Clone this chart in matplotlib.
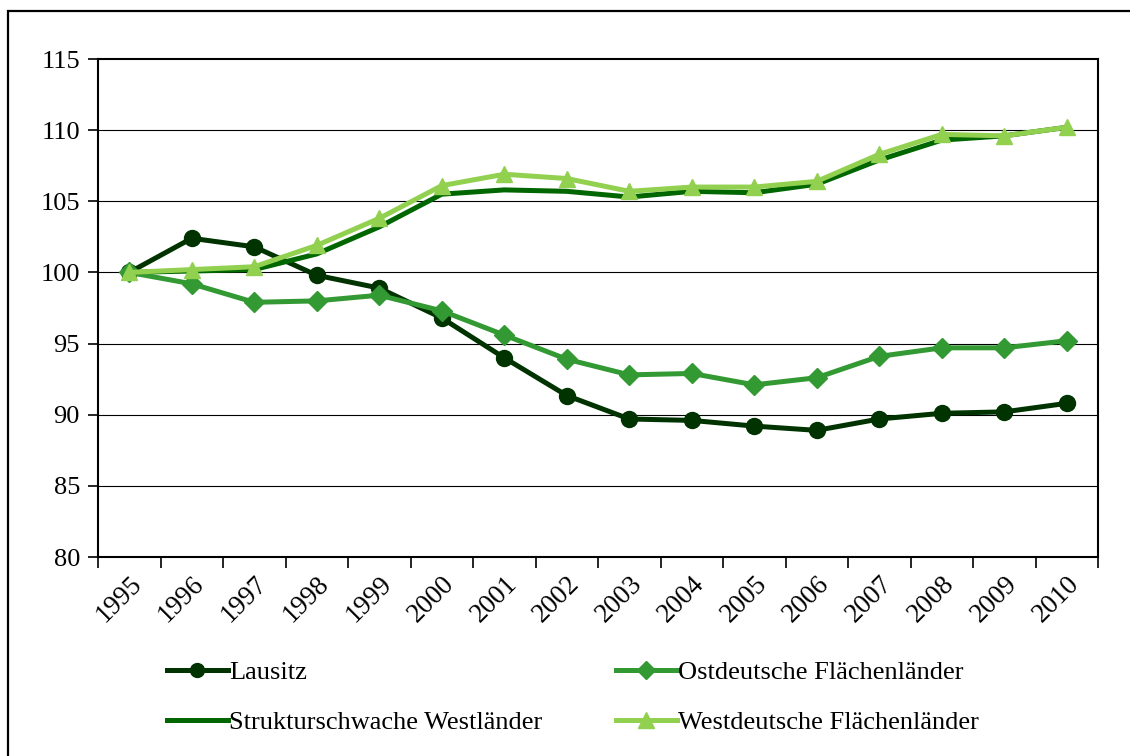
import matplotlib
matplotlib.use("Agg")
import matplotlib.pyplot as plt
from matplotlib.patches import Rectangle
from matplotlib.lines import Line2D
import numpy as np

plt.rcParams['font.family'] = ['Liberation Serif', 'DejaVu Serif']

years = [str(y) for y in range(1995, 2011)]
lausitz = [100, 102.4, 101.8, 99.8, 98.9, 96.8, 94.0, 91.35, 89.7, 89.6, 89.2, 88.9, 89.7, 90.1, 90.2, 90.8]
ost = [100, 99.2, 97.9, 98.0, 98.4, 97.3, 95.6, 93.9, 92.8, 92.9, 92.1, 92.6, 94.1, 94.7, 94.7, 95.2]
struktur = [100, 100.1, 100.2, 101.3, 103.2, 105.5, 105.8, 105.7, 105.3, 105.7, 105.6, 106.2, 107.9, 109.3, 109.6, 110.2]
west = [100, 100.2, 100.4, 101.9, 103.8, 106.1, 106.9, 106.6, 105.7, 106.0, 106.0, 106.4, 108.3, 109.7, 109.6, 110.2]
yticks = [80, 85, 90, 95, 100, 105, 110, 115]
labels = ["Lausitz", "Ostdeutsche Flächenländer", "Strukturschwache Westländer", "Westdeutsche Flächenländer"]

c_lau = "#003300"
c_ost = "#339933"
c_str = "#006600"
c_wes = "#92D050"

W, H = 1130, 756
fig = plt.figure(figsize=(W/100, H/100), dpi=100)
ax = fig.add_axes([98/W, 1-557/H, 1000/W, 498/H])

x = np.arange(len(years))
lw = 3.6
ax.plot(x, lausitz, color=c_lau, lw=lw, marker='o', ms=11.5, zorder=3)
ax.plot(x, struktur, color=c_str, lw=lw, zorder=3)
ax.plot(x, ost, color=c_ost, lw=lw, marker='D', ms=10, zorder=4)
ax.plot(x, west, color=c_wes, lw=lw, marker='^', ms=12, zorder=5)

ax.set_xlim(-0.5, len(years)-0.5)
ax.set_ylim(80, 115)
ax.set_yticks(yticks)
ax.set_yticklabels([str(v) for v in yticks], fontsize=19)
ax.set_xticks(np.arange(-0.5, len(years), 1.0))
ax.set_xticklabels([])
ax.set_xticks(x, minor=True)
ax.set_xticklabels(years, minor=True, rotation=45, ha='right', va='top',
                   rotation_mode='anchor', fontsize=19.5)
ax.tick_params(axis='x', which='minor', length=0, pad=10)
ax.tick_params(axis='x', which='major', length=8, width=1.2, direction='out')
ax.tick_params(axis='y', length=7, width=1.2, direction='out', pad=6)
for v in yticks[1:-1]:
    ax.axhline(v, color='black', lw=0.8, zorder=1)
for s in ax.spines.values():
    s.set_linewidth(1.5)
    s.set_color('black')

# outer chart frame
fig.patches.append(Rectangle((7.5/W, -0.05), 1.2, 1.05 - 11.5/H, transform=fig.transFigure,
                             fill=False, edgecolor='black', lw=1.6, zorder=0))

handles = [
    Line2D([], [], color=c_lau, lw=lw, marker='o', ms=10),
    Line2D([], [], color=c_str, lw=lw),
    Line2D([], [], color=c_ost, lw=lw, marker='D', ms=9),
    Line2D([], [], color=c_wes, lw=lw, marker='^', ms=11),
]
hl = [labels[0], labels[2], labels[1], labels[3]]
fig.legend(handles, hl, ncol=2, loc='upper left', bbox_to_anchor=(167/W, 1-661/H),
           frameon=False, fontsize=19, handlelength=2.3, handletextpad=0.05,
           columnspacing=2.8, labelspacing=1.0, borderpad=0, borderaxespad=0)

fig.savefig("out.png", dpi=100)
